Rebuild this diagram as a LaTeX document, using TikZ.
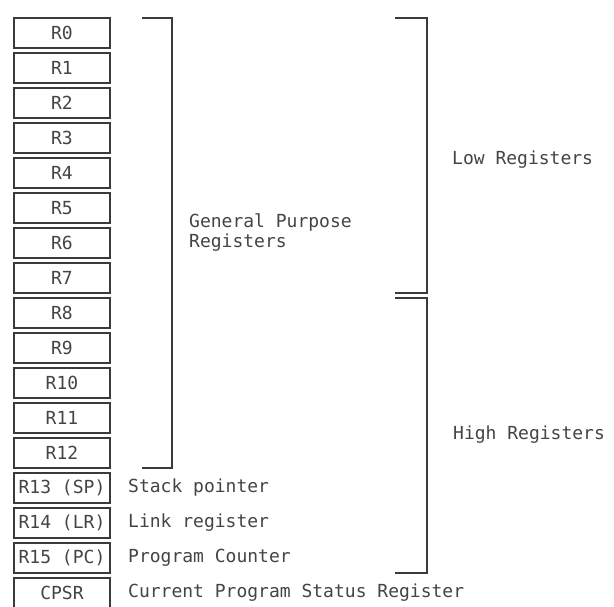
\documentclass[tikz,border=0pt]{standalone}
\usepackage{fontspec}
\setmonofont{DejaVu Sans Mono}
\usepackage{tikz}
\usetikzlibrary{positioning}
\definecolor{inkgray}{HTML}{3A3A3A}
\definecolor{textgray}{HTML}{444444}

\begin{document}
\begin{tikzpicture}[%
x=1pt, y=-1pt,
every node/.style = {font=\ttfamily\fontsize{18}{20}\selectfont, text=textgray},
reg/.style = {draw=inkgray, line width=1.6pt, minimum width=96pt, minimum height=30pt, inner sep=0pt, outer sep=0pt},
regnote/.style = {right=18pt of #1, inner sep=0pt},
brace/.style = {draw=inkgray, line width=1.8pt}
]
\useasboundingbox (0,0) rectangle (614,606);
% register stack
\node[reg] (r0) at (62,33) {R0};
\node[reg, below=5pt of r0] (r1) {R1};
\node[reg, below=5pt of r1] (r2) {R2};
\node[reg, below=5pt of r2] (r3) {R3};
\node[reg, below=5pt of r3] (r4) {R4};
\node[reg, below=5pt of r4] (r5) {R5};
\node[reg, below=5pt of r5] (r6) {R6};
\node[reg, below=5pt of r6] (r7) {R7};
\node[reg, below=5pt of r7] (r8) {R8};
\node[reg, below=5pt of r8] (r9) {R9};
\node[reg, below=5pt of r9] (r10) {R10};
\node[reg, below=5pt of r10] (r11) {R11};
\node[reg, below=5pt of r11] (r12) {R12};
\node[reg, below=5pt of r12] (r13) {R13 (SP)};
\node[reg, below=5pt of r13] (r14) {R14 (LR)};
\node[reg, below=5pt of r14] (r15) {R15 (PC)};
\node[reg, below=5pt of r15] (cpsr) {CPSR};
% special registers
\node[regnote=r13] (sp) {Stack pointer};
\node[regnote=r14] (lr) {Link register};
\node[regnote=r15] (pc) {Program Counter};
\node[regnote=cpsr] (psr) {Current Program Status Register};
% brackets
\draw[brace] ([xshift=32pt]r0.north east) -- ([xshift=62pt]r0.north east)
  |- ([xshift=32pt]r12.south east);
\draw[brace] ([xshift=285pt]r0.north east) -- ([xshift=317pt]r0.north east)
  |- ([xshift=285pt]r7.south east);
\draw[brace] ([xshift=285pt]r8.north east) -- ([xshift=317pt]r8.north east)
  |- ([xshift=285pt]r15.south east);
\node[anchor=west, align=left, inner sep=0pt] (gp) at (189,233) {General Purpose\\Registers};
\node[anchor=west, inner sep=0pt] (low) at (452,160) {Low Registers};
\node[anchor=west, inner sep=0pt] (high) at (453,435) {High Registers};
\end{tikzpicture}
\end{document}
